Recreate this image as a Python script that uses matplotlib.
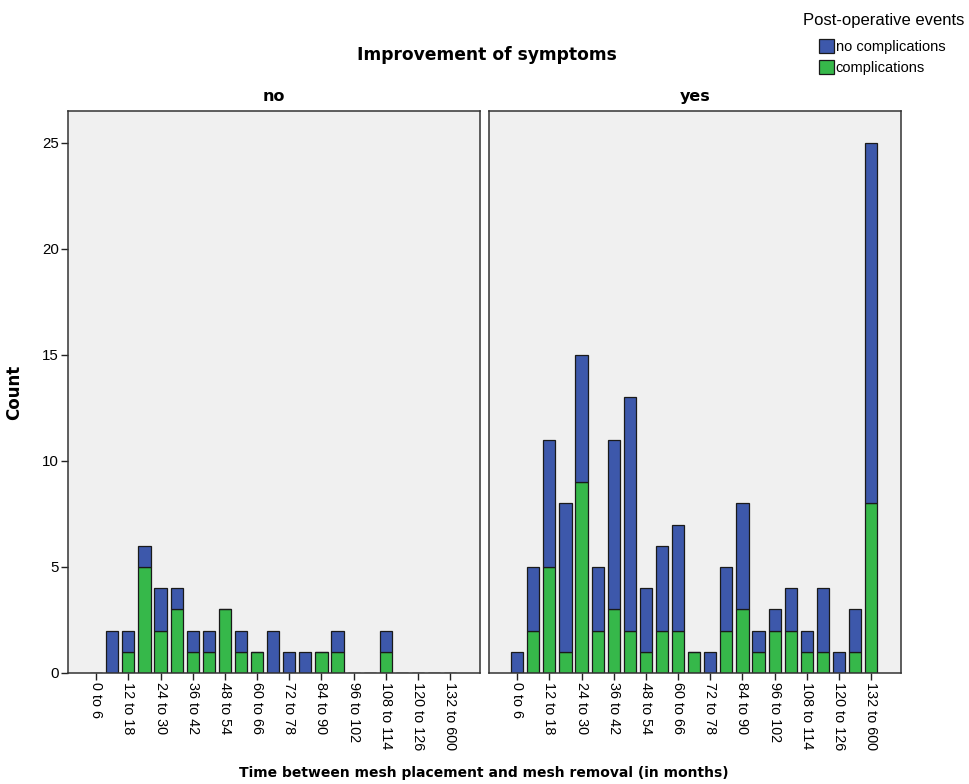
import matplotlib
matplotlib.use("Agg")
import matplotlib.pyplot as plt
from matplotlib.patches import Patch
import numpy as np

plt.rcParams['font.family'] = ['Liberation Sans', 'DejaVu Sans']

# time bins (months)
bins = ["0 to 6", "6 to 12", "12 to 18", "18 to 24", "24 to 30", "30 to 36",
        "36 to 42", "42 to 48", "48 to 54", "54 to 60", "60 to 66", "66 to 72",
        "72 to 78", "78 to 84", "84 to 90", "90 to 96", "96 to 102", "102 to 108",
        "108 to 114", "114 to 120", "120 to 126", "126 to 132", "132 to 600"]

# Improvement of symptoms = no
no_total = [0, 2, 2, 6, 4, 4, 2, 2, 3, 2, 1, 2, 1, 1, 1, 2, 0, 0, 2, 0, 0, 0, 0]
no_comp  = [0, 0, 1, 5, 2, 3, 1, 1, 3, 1, 1, 0, 0, 0, 1, 1, 0, 0, 1, 0, 0, 0, 0]

# Improvement of symptoms = yes
yes_total = [1, 5, 11, 8, 15, 5, 11, 13, 4, 6, 7, 1, 1, 5, 8, 2, 3, 4, 2, 4, 1, 3, 25]
yes_comp  = [0, 2, 5, 1, 9, 2, 3, 2, 1, 2, 2, 1, 0, 2, 3, 1, 2, 2, 1, 1, 0, 1, 8]

blue = "#3d58ab"
green = "#36b84a"
W, H = 969, 784
bold = ['DejaVu Sans']

fig = plt.figure(figsize=(W / 100, H / 100), dpi=100)

panels = [("no", no_total, no_comp, 68), ("yes", yes_total, yes_comp, 489)]
x = np.arange(len(bins))
for name, total, comp, left in panels:
    ax = fig.add_axes([left / W, (H - 673) / H, 412 / W, (673 - 111) / H])
    ax.set_facecolor("#f0f0f0")
    nocomp = np.array(total) - np.array(comp)
    ax.bar(x, comp, width=0.76, color=green, edgecolor="#1a1a1a", linewidth=0.9)
    ax.bar(x, nocomp, width=0.76, bottom=comp, color=blue, edgecolor="#1a1a1a", linewidth=0.9)
    ax.set_xlim(-1.75, 23.85)
    ax.set_ylim(0, 26.5)
    ax.set_xticks(x[::2])
    ax.set_xticklabels(bins[::2], rotation=-90, fontsize=10.4)
    ax.set_yticks([0, 5, 10, 15, 20, 25])
    ax.tick_params(axis="both", direction="out", length=5, width=1, colors="#222222",
                   labelcolor="black", pad=1.5)
    ax.tick_params(axis="y", labelsize=10.8)
    if name == "yes":
        ax.tick_params(axis="y", left=False, labelleft=False)
    for s in ax.spines.values():
        s.set_color("#333333")
        s.set_linewidth(1.1)
    ax.set_title(name, fontsize=11.5, fontweight="bold", family=bold, pad=7)
    if name == "no":
        ax.set_ylabel("Count", fontsize=12, fontweight="bold", family=bold, labelpad=14)

fig.text(487 / W, 1 - 55 / H, "Improvement of symptoms", ha="center", va="center",
         fontsize=12.3, fontweight="bold", family=bold)
fig.text(484 / W, 1 - 773 / H, "Time between mesh placement and mesh removal (in months)",
         ha="center", va="center", fontsize=10, fontweight="bold", family=bold)

fig.text(884 / W, 1 - 20 / H, "Post-operative events", ha="center", va="center", fontsize=12)
handles = [Patch(facecolor=blue, edgecolor="#1a1a1a", linewidth=0.9, label="no complications"),
           Patch(facecolor=green, edgecolor="#1a1a1a", linewidth=0.9, label="complications")]
fig.legend(handles=handles, loc="upper left", bbox_to_anchor=(819 / W, 1 - 39 / H),
           frameon=False, fontsize=10.5, handlelength=1.0, handleheight=1.1,
           handletextpad=0.15, labelspacing=0.4, borderaxespad=0, borderpad=0)

fig.savefig("out.png", dpi=100)
